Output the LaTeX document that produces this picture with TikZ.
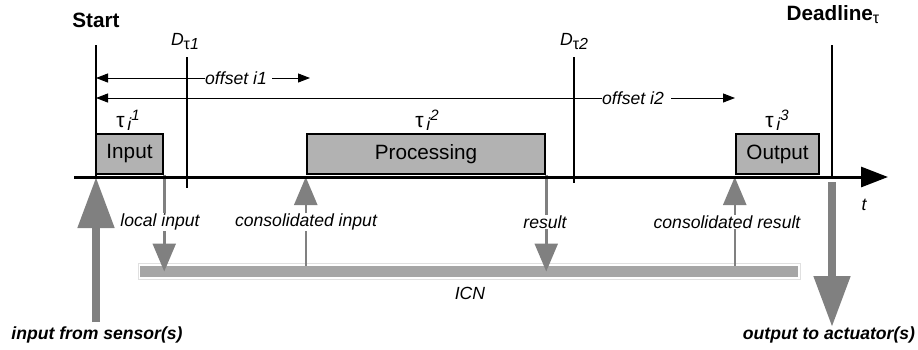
\documentclass[tikz,border=0pt]{standalone}
\usepackage{fontspec}
\setmainfont{Liberation Sans}
\usetikzlibrary{arrows.meta, calc}

\begin{document}
\begin{tikzpicture}[x=1pt, y=-1pt,
  task/.style={draw, line width=2.5pt, fill=black!30, minimum height=40pt, inner sep=0pt, font=\fontsize{20.7}{24}\selectfont},
  lbl/.style={inner sep=1pt, fill=white, font=\fontsize{17.6}{21}\selectfont\itshape},
  head/.style={inner sep=0pt, font=\fontsize{20.7}{24}\selectfont\bfseries},
  io/.style={inner sep=0pt, font=\fontsize{17.6}{21}\selectfont\bfseries\itshape},
  vline/.style={line width=2.5pt},
  span/.style={line width=1pt, -{Triangle[length=12pt, width=9pt]}},
  msg/.style={draw=black!50, line width=2.5pt, -{Triangle[length=28pt, width=23pt]}},
  bigarrow/.style={draw=black!50, line width=8pt, -{Triangle[length=51pt, width=35pt]}}]
  \useasboundingbox (0,0) rectangle (918,349);

  % time axis and marks
  \coordinate (t0) at (74,177);
  \coordinate (tend) at (888,177);
  \coordinate (s top) at (96,45);
  \coordinate (d1 top) at (187,57);
  \coordinate (d1 foot) at (187,188);
  \coordinate (d2 top) at (574,57);
  \coordinate (d2 foot) at (574,183);
  \coordinate (dl top) at (832,45);
  \coordinate (dl foot) at (832,182);
  \coordinate (sensor) at (96,322);
  \coordinate (actuator) at (832,327);

  \node[head] (start) at (96,20) {Start};
  \node[head] (deadline) at (833,15) {Deadline\raisebox{-3pt}{\fontsize{16}{18}\selectfont\mdseries τ}};
  \node[lbl, fill=none] (d1) at (185,42) {D\raisebox{-4pt}{\fontsize{16}{18}\selectfont\upshape τ\itshape 1}};
  \node[lbl, fill=none] (d2) at (574,42) {D\raisebox{-4pt}{\fontsize{16}{18}\selectfont\upshape τ\itshape 2}};

  % ICN bar
  \node[draw=black!12, line width=1pt, minimum width=662pt, minimum height=16pt, inner sep=0pt] (icn frame) at (469,271) {};
  \node[fill=black!35, minimum width=658pt, minimum height=11pt, inner sep=0pt] (icn) at (469,271.5) {};
  \node[lbl] (icn label) at (470,293) {ICN};

  % tasks
  \node[task, minimum width=67pt] (input) at (129.5,154) {Input};
  \node[task, minimum width=238pt] (proc) at (426,154) {Processing};
  \node[task, minimum width=83pt] (output) at (777.5,154) {Output};
  \node[lbl, fill=none] (tau1) at (128,120) {{\fontsize{21}{24}\selectfont\upshape τ}\,\raisebox{-3pt}{i}\raisebox{7pt}{\fontsize{15}{17}\selectfont 1}};
  \node[lbl, fill=none] (tau2) at (427,120) {{\fontsize{21}{24}\selectfont\upshape τ}\,\raisebox{-3pt}{i}\raisebox{7pt}{\fontsize{15}{17}\selectfont 2}};
  \node[lbl, fill=none] (tau3) at (777,120) {{\fontsize{21}{24}\selectfont\upshape τ}\,\raisebox{-3pt}{i}\raisebox{7pt}{\fontsize{15}{17}\selectfont 3}};

  % messages to and from the ICN
  \draw[msg] (input.south east) -- (input.south east |- icn.center);
  \draw[msg] (proc.south east) -- (proc.south east |- icn.center);
  \draw[msg] (proc.south west |- icn.north) -- (proc.south west |- t0);
  \draw[msg] (output.south west |- icn.north) -- (output.south west |- t0);
  \node[lbl] (local) at (160,222) {local input};
  \node[lbl] (cons in) at (306,222) {consolidated input};
  \node[lbl] (result) at (545,222) {result};
  \node[lbl] (cons out) at (727,222) {consolidated result};

  % sensor and actuator
  \draw[bigarrow] (sensor) -- (s top |- t0);
  \draw[bigarrow] (dl foot) -- (actuator);
  \node[io] (sensor label) at (97,335) {input from sensor(s)};
  \node[io] (actuator label) at (829,335) {output to actuator(s)};

  \draw[line width=3pt, -{Triangle[length=27pt, width=20pt]}] (t0) -- (tend);
  \node[lbl, fill=none] (t) at (864,205) {t};
  \draw[vline] (s top) -- (s top |- t0);
  \draw[vline] (d1 top) -- (d1 foot);
  \draw[vline] (d2 top) -- (d2 foot);
  \draw[vline, line width=2pt] (dl top) -- (dl top |- t0);

  % offsets
  \coordinate (off1 end) at (310,78);
  \coordinate (off2 end) at (735,98);
  \node[lbl, inner sep=0pt] (off1) at (236,78) {offset i1};
  \node[lbl, inner sep=0pt] (off2) at (633,98) {offset i2};
  \draw[span] (off1.west) -- (s top |- off1.west);
  \draw[span] ([xshift=5pt]off1.east) -- (off1 end);
  \draw[span] (off2.west) -- (s top |- off2.west);
  \draw[span] ([xshift=7pt]off2.east) -- (off2 end);
\end{tikzpicture}
\end{document}
